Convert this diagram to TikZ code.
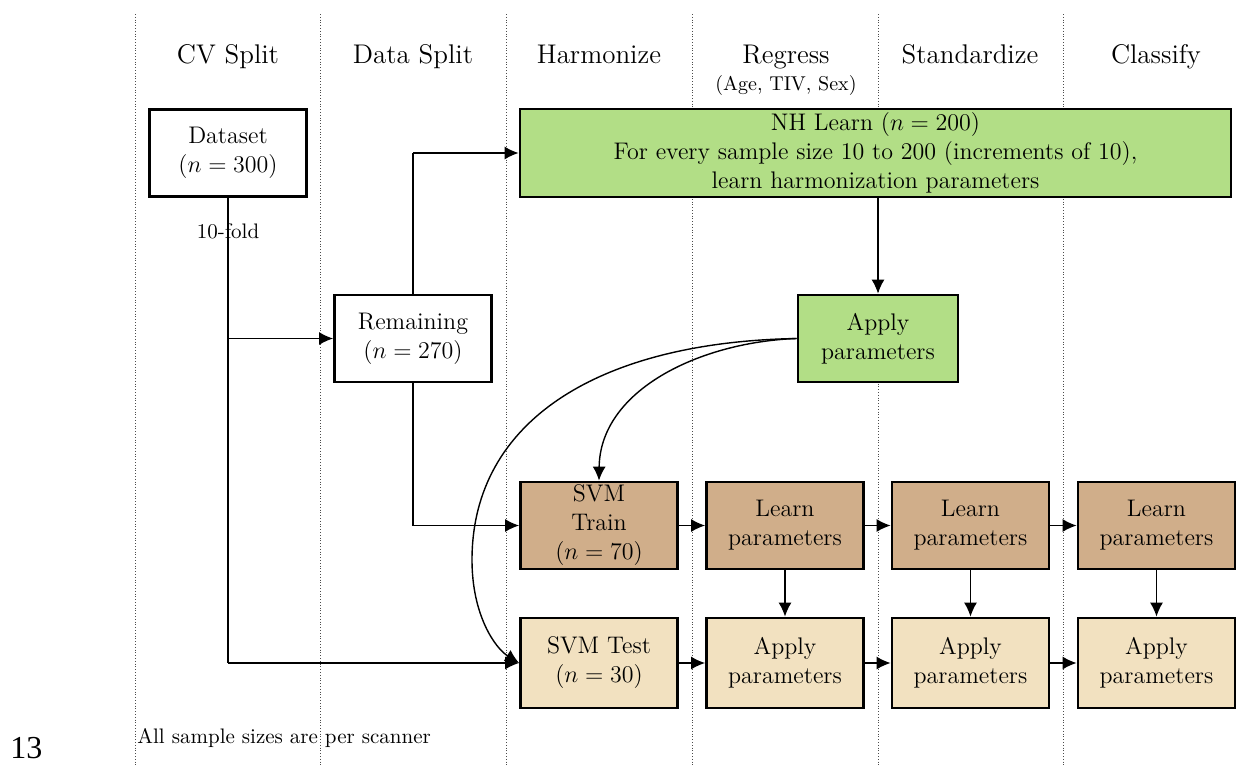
\documentclass[tikz,border=0pt]{standalone}
\usepackage{fontspec}
\newfontfamily\timesfont{Liberation Serif}
\usetikzlibrary{arrows.meta}
\definecolor{nhgreen}{RGB}{178,222,134}
\definecolor{trtan}{RGB}{208,174,138}
\definecolor{tslight}{RGB}{242,225,192}
\begin{document}
\begin{tikzpicture}[x=0.5pt,y=-0.5pt,
  box/.style={draw, line width=1.4pt, align=center, inner sep=1pt,
    minimum width=78.5pt, minimum height=43.5pt,
    font=\fontsize{12}{14.5}\selectfont},
  hdr/.style={font=\fontsize{13.5}{16}\selectfont, anchor=base},
  conn/.style={line width=0.7pt},
  arr/.style={line width=0.7pt, -{Latex[length=7pt,width=6.5pt]}},
  lane/.style={densely dotted, line width=0.4pt, black!70}]
\useasboundingbox (0,0) rectangle (1244,767);
% lane separators
\foreach \x in {135,320,506,692,878,1063}
  \draw[lane] (\x,14) -- (\x,767);
% headers
\node[hdr] (h1) at (228,63) {CV Split};
\node[hdr] (h2) at (413,63) {Data Split};
\node[hdr] (h3) at (599,63) {Harmonize};
\node[hdr] (h4) at (786,63) {Regress};
\node[anchor=base, font=\fontsize{10}{12}\selectfont] (h4b) at (786,90) {(Age, TIV, Sex)};
\node[hdr] (h5) at (970,63) {Standardize};
\node[hdr] (h6) at (1156,63) {Classify};
% boxes
\node[box, fill=white] (ds) at (228,153) {Dataset\\($n=300$)};
\node[box, fill=white] (rem) at (413,338.5) {Remaining\\($n=270$)};
\node[box, fill=nhgreen, minimum width=355.5pt, minimum height=44pt] (nh) at (875.5,153)
  {NH Learn ($n=200$)\\For every sample size 10 to 200 (increments of 10),\\learn harmonization parameters};
\node[box, fill=nhgreen, minimum width=80pt] (ap) at (878,338.5) {Apply\\parameters};
\node[box, fill=trtan, inner sep=0pt] (tr) at (599,525.5) {SVM\\Train\\($n=70$)};
\node[box, fill=trtan] (l1) at (785,525.5) {Learn\\parameters};
\node[box, fill=trtan] (l2) at (970.5,525.5) {Learn\\parameters};
\node[box, fill=trtan] (l3) at (1156.5,525.5) {Learn\\parameters};
\node[box, fill=tslight, minimum height=45pt] (te) at (599,663) {SVM Test\\($n=30$)};
\node[box, fill=tslight, minimum height=45pt] (a1) at (785,663) {Apply\\parameters};
\node[box, fill=tslight, minimum height=45pt] (a2) at (970.5,663) {Apply\\parameters};
\node[box, fill=tslight, minimum height=45pt] (a3) at (1156.5,663) {Apply\\parameters};
% labels
\node[font=\fontsize{10.5}{12}\selectfont] (fold) at (228,231) {10-fold};
\node[font=\fontsize{10.5}{12}\selectfont, anchor=base west, inner sep=0pt] (note) at (137,743) {All sample sizes are per scanner};
\node[font=\timesfont\fontsize{16}{18}\selectfont, anchor=base west, inner sep=0pt] (pg) at (10,758) {13};
% connectors
\coordinate (c1) at (228,663);
\coordinate (c2) at (228,338.5);
\coordinate (c3) at (413,153);
\coordinate (c4) at (413,525.5);
\draw[conn] (ds.south) -- (c1);
\draw[arr] (c1) -- (te.west);
\draw[arr] (c2) -- (rem.west);
\draw[conn] (rem.north) -- (c3);
\draw[arr] (c3) -- (nh.west);
\draw[conn] (rem.south) -- (c4);
\draw[arr] (c4) -- (tr.west);
\draw[arr] (ap.north |- nh.south) -- (ap.north);
\draw[arr] (ap.west) .. controls (700,342) and (600,390) .. (tr.north);
\draw[arr] (ap.west) .. controls (600,342) and (472,420) .. (472,560)
   .. controls (472,615) and (495,648) .. (te.west);
\draw[arr] (tr.east) -- (l1.west);
\draw[arr] (l1.east) -- (l2.west);
\draw[arr] (l2.east) -- (l3.west);
\draw[arr] (te.east) -- (a1.west);
\draw[arr] (a1.east) -- (a2.west);
\draw[arr] (a2.east) -- (a3.west);
\draw[arr] (l1.south) -- (a1.north);
\draw[arr] (l2.south) -- (a2.north);
\draw[arr] (l3.south) -- (a3.north);
\end{tikzpicture}
\end{document}
